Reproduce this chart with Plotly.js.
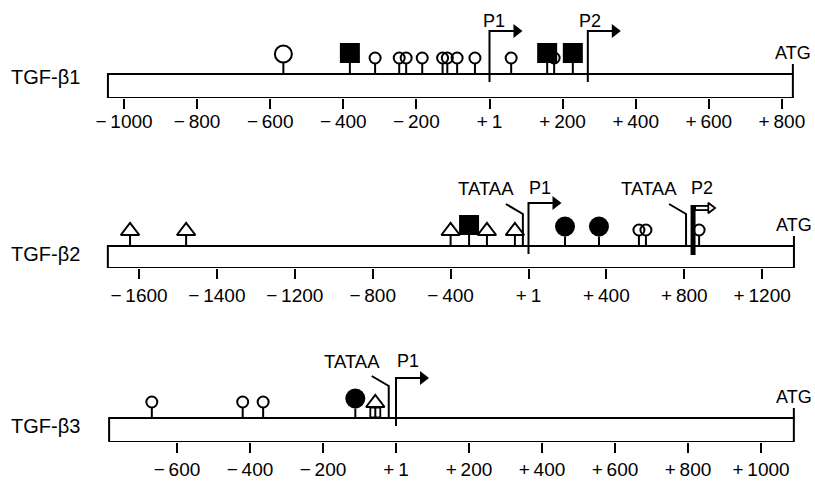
<!DOCTYPE html>
<html><head><meta charset="utf-8">
<script src="https://cdn.plot.ly/plotly-3.0.1.min.js"></script>
<style>html,body{margin:0;padding:0;background:#fff}#chart{width:815px;height:484px}</style>
</head><body><div id="chart"></div>
<script>
// ================= DATA (positions in bp relative to transcription start) =================
// TGF-beta1
const b1TickVals = [-1000,-800,-600,-400,-200,1,200,400,600,800];
const b1TickText = ['\u2212\u20091000','\u2212\u2009800','\u2212\u2009600','\u2212\u2009400','\u2212\u2009200','+\u20091','+\u2009200','+\u2009400','+\u2009600','+\u2009800'];
const b1Span = [-1044, 830];           // start of drawn region, ATG
const b1OpenLarge = [-564];
const b1OpenSmall = [-313,-247,-228,-184,-128,-115,-88,-39,60,177];
const b1FilledSquare = [-382,158,228];
const b1FilledCircle = [];
const b1OpenTriangle = [];
const b1BoxedTriangle = [];
const b1Tataa = [];
const b1Promoter = [1,269];
const b1PromoterLabel = ['P1','P2'];
const b1PromoterHollow = [false,false];

// TGF-beta2
const b2TickVals = [-1600,-1400,-1200,-800,-400,1,400,800,1200];
const b2TickText = ['\u2212\u20091600','\u2212\u20091400','\u2212\u20091200','\u2212\u2009800','\u2212\u2009400','+\u20091','+\u2009400','+\u2009800','+\u20091200'];
const b2Span = [-1680, 1363];
const b2OpenLarge = [];
const b2OpenSmall = [567,603,876];
const b2FilledSquare = [-305];
const b2FilledCircle = [188,362];
const b2OpenTriangle = [-1623,-1479,-400,-213,-69];
const b2BoxedTriangle = [];
const b2Tataa = [-28,809];
const b2Promoter = [1,845];
const b2PromoterLabel = ['P1','P2'];
const b2PromoterHollow = [false,true];

// TGF-beta3
const b3TickVals = [-600,-400,-200,1,200,400,600,800,1000];
const b3TickText = ['\u2212\u2009600','\u2212\u2009400','\u2212\u2009200','+\u20091','+\u2009200','+\u2009400','+\u2009600','+\u2009800','+\u20091000'];
const b3Span = [-786, 1090];
const b3OpenLarge = [];
const b3OpenSmall = [-669,-420,-364];
const b3FilledSquare = [];
const b3FilledCircle = [-111];
const b3OpenTriangle = [];
const b3BoxedTriangle = [-56];
const b3Tataa = [-19];
const b3Promoter = [1];
const b3PromoterLabel = ['P1'];
const b3PromoterHollow = [false];

const geneNames = ['TGF-\u03b21','TGF-\u03b22','TGF-\u03b23'];

// ================= LAYOUT / STYLE (pixels) =================
const W = 815, H = 484;
const FONT = 'Liberation Sans, Arial, Helvetica, sans-serif';
const panelGeom = [
  {firstTick:124, step:73.1, barBottom:98,  panelTop:0,   barH:24, arrowTop:43, labelAbove:53,   nameCenter:77,    pShift:[4,2],  labLen:6},
  {firstTick:139, step:77.9, barBottom:268, panelTop:128, barH:22, arrowTop:43, labelAbove:58,   nameCenter:253.5, pShift:[11,9], labLen:10},
  {firstTick:177, step:73.0, barBottom:442, panelTop:300, barH:24, arrowTop:40, labelAbove:56.5, nameCenter:426.5, pShift:[12],   labLen:10}
];
// marker styles: center/bottom are px above the bar top
const MS = {
  openLarge:  {symbol:'circle-open', size:17, center:20, bottom:11, color:'#000', lw:2},
  openSmall:  {symbol:'circle-open', size:11, center:16, bottom:10.5, color:'#000', lw:2},
  filledSq:   {symbol:'square', size:20, center:21, bottom:11, color:'#000', lw:0},
  filledCirc: {symbol:'circle', size:20, center:19.5, bottom:9.5, color:'#000', lw:0},
  openTri:    {symbol:'triangle-up', size:16, center:15, bottom:11, color:'#fff', lw:2},
  box:        {symbol:'square-open', size:10, center:5.5, bottom:0, color:'#000', lw:1.8}
};
const ARROW_L = 33, HOLLOW_L = 22;

const panels = [
  {ticks:b1TickVals, text:b1TickText, span:b1Span, openLarge:b1OpenLarge, openSmall:b1OpenSmall, filledSq:b1FilledSquare, filledCirc:b1FilledCircle, openTri:b1OpenTriangle, boxTri:b1BoxedTriangle, tataa:b1Tataa, prom:b1Promoter, promLab:b1PromoterLabel, promHollow:b1PromoterHollow},
  {ticks:b2TickVals, text:b2TickText, span:b2Span, openLarge:b2OpenLarge, openSmall:b2OpenSmall, filledSq:b2FilledSquare, filledCirc:b2FilledCircle, openTri:b2OpenTriangle, boxTri:b2BoxedTriangle, tataa:b2Tataa, prom:b2Promoter, promLab:b2PromoterLabel, promHollow:b2PromoterHollow},
  {ticks:b3TickVals, text:b3TickText, span:b3Span, openLarge:b3OpenLarge, openSmall:b3OpenSmall, filledSq:b3FilledSquare, filledCirc:b3FilledCircle, openTri:b3OpenTriangle, boxTri:b3BoxedTriangle, tataa:b3Tataa, prom:b3Promoter, promLab:b3PromoterLabel, promHollow:b3PromoterHollow}
];

// piecewise-linear map from bp to tick-index axis units (ticks are evenly spaced in the figure)
function toIdx(v, tv){
  const n = tv.length;
  let i;
  if (v <= tv[0]) i = 0;
  else if (v >= tv[n-1]) i = n-2;
  else { i = 0; while (!(v >= tv[i] && v <= tv[i+1])) i++; }
  return i + (v - tv[i]) / (tv[i+1] - tv[i]);
}

const traces = [], shapes = [], annotations = [];
const layout = {
  width:W, height:H, margin:{l:0,r:0,t:0,b:0}, showlegend:false,
  paper_bgcolor:'#fff', plot_bgcolor:'rgba(0,0,0,0)', font:{family:FONT, color:'#000'}
};

panels.forEach((p, k) => {
  const g = panelGeom[k];
  const xs = k ? 'x' + (k+1) : 'x', ys = k ? 'y' + (k+1) : 'y';
  const xk = k ? 'xaxis' + (k+1) : 'xaxis', yk = k ? 'yaxis' + (k+1) : 'yaxis';
  const xl = 'x' + (k+4), xlk = 'xaxis' + (k+4);  // overlay axis carrying the tick labels
  const u = px => px / g.step;             // px -> x units
  const X = v => toIdx(v, p.ticks);
  const top = g.barH;                       // bar top in y units (px above bar bottom)
  const xr = [(0 - g.firstTick)/g.step, (W - g.firstTick)/g.step];
  const tv = p.ticks.map((_,i)=>i);

  layout[xk] = {
    anchor: ys, domain:[0,1], range:xr,
    showgrid:false, zeroline:false, showline:false, fixedrange:true,
    ticks:'outside', ticklen:10, tickwidth:2, tickcolor:'#000', showticklabels:false,
    tickmode:'array', tickvals:tv, ticktext:p.text
  };
  layout[xlk] = {
    anchor: ys, overlaying: xs, domain:[0,1], range:xr,
    showgrid:false, zeroline:false, showline:false, fixedrange:true,
    ticks:'outside', ticklen:g.labLen, tickwidth:1, tickcolor:'rgba(0,0,0,0)',
    tickmode:'array', tickvals:tv, ticktext:p.text,
    tickfont:{family:FONT, size:19, color:'#000'}
  };
  layout[yk] = {
    anchor: xs, domain:[(H - g.barBottom)/H, (H - g.panelTop)/H], range:[0, g.barBottom - g.panelTop],
    visible:false, fixedrange:true
  };
  traces.push({type:'scatter', mode:'markers', x:[null], y:[null], xaxis:xl, yaxis:ys, hoverinfo:'skip'});

  // bar
  shapes.push({type:'rect', xref:xs, yref:ys, x0:X(p.span[0]), x1:X(p.span[1]), y0:0, y1:top,
               line:{color:'#000', width:2}, fillcolor:'rgba(0,0,0,0)', layer:'above'});

  // stems
  const sx = [], sy = [];
  const groups = [['openLarge',p.openLarge],['openSmall',p.openSmall],['openTri',p.openTri],['openTri',p.boxTri],['filledCirc',p.filledCirc],['filledSq',p.filledSq]];
  groups.forEach(([t, arr]) => arr.forEach(v => { sx.push(X(v), X(v), null); sy.push(top, top + MS[t].bottom, null); }));
  // ATG tick
  sx.push(X(p.span[1]), X(p.span[1]), null); sy.push(top, top + 10, null);
  // TATAA bent lines
  p.tataa.forEach(v => { sx.push(X(v) - u(17), X(v), X(v), null); sy.push(top + 42, top + 32, top, null); });
  traces.push({type:'scatter', mode:'lines', x:sx, y:sy, xaxis:xs, yaxis:ys, hoverinfo:'skip',
               line:{color:'#000', width:2}});

  // boxes under boxed triangles
  if (p.boxTri.length) {
    traces.push({type:'scatter', mode:'markers', x:p.boxTri.map(X), y:p.boxTri.map(()=>top + MS.box.center),
      xaxis:xs, yaxis:ys, hoverinfo:'skip',
      marker:{symbol:MS.box.symbol, size:MS.box.size, color:'#000', line:{width:MS.box.lw, color:'#000'}}});
  }
  // markers (open ones first so filled ones sit on top)
  groups.forEach(([t, arr]) => {
    if (!arr.length) return;
    const m = MS[t];
    traces.push({type:'scatter', mode:'markers', x:arr.map(X), y:arr.map(()=>top + m.center),
      xaxis:xs, yaxis:ys, hoverinfo:'skip',
      marker:{symbol:m.symbol, size:m.size, color:m.color, line:{width:m.lw, color:'#000'}}});
  });

  // promoters
  p.prom.forEach((v, i) => {
    const x0 = X(v);
    if (!p.promHollow[i]) {
      traces.push({type:'scatter', mode:'lines', xaxis:xs, yaxis:ys, hoverinfo:'skip',
        x:[x0, x0, x0 + u(ARROW_L - 6)], y:[top - 8, top + g.arrowTop, top + g.arrowTop],
        line:{color:'#000', width:2}});
      traces.push({type:'scatter', mode:'markers', xaxis:xs, yaxis:ys, hoverinfo:'skip',
        x:[x0 + u(ARROW_L - 6)], y:[top + g.arrowTop],
        marker:{symbol:'triangle-right', size:12, color:'#000'}});
    } else {
      const yA = top + g.arrowTop - 5;
      traces.push({type:'scatter', mode:'lines', xaxis:xs, yaxis:ys, hoverinfo:'skip',
        x:[x0, x0], y:[top - 9, top + g.arrowTop - 2], line:{color:'#000', width:5}});
      traces.push({type:'scatter', mode:'lines', xaxis:xs, yaxis:ys, hoverinfo:'skip',
        x:[x0, x0 + u(HOLLOW_L - 7)], y:[yA, yA], line:{color:'#000', width:6}});
      traces.push({type:'scatter', mode:'lines', xaxis:xs, yaxis:ys, hoverinfo:'skip',
        x:[x0 + u(3), x0 + u(HOLLOW_L - 6.5)], y:[yA, yA], line:{color:'#fff', width:2.4}});
      traces.push({type:'scatter', mode:'markers', xaxis:xs, yaxis:ys, hoverinfo:'skip',
        x:[x0 + u(HOLLOW_L - 4.5)], y:[yA],
        marker:{symbol:'triangle-right', size:9, color:'#fff', line:{color:'#000', width:1.8}}});
    }
    annotations.push({xref:xs, yref:ys, x:x0, y:top + g.labelAbove, xshift:g.pShift[i], text:p.promLab[i],
      showarrow:false, xanchor:'center', yanchor:'middle', font:{family:FONT, size:18, color:'#000'}});
  });
  p.tataa.forEach(v => {
    annotations.push({xref:xs, yref:ys, x:X(v), y:top + g.labelAbove, xshift:-7, text:'TATAA',
      showarrow:false, xanchor:'right', yanchor:'middle', font:{family:FONT, size:18.5, color:'#000'}});
  });
  // ATG label
  annotations.push({xref:xs, yref:ys, x:X(p.span[1]), y:top + 21, text:'ATG', showarrow:false,
    xanchor:'center', yanchor:'middle', font:{family:FONT, size:18, color:'#000'}});
  // gene name
  annotations.push({xref:'paper', yref:ys, x:9/W, y:g.barBottom - g.nameCenter, text:geneNames[k], showarrow:false,
    xanchor:'left', yanchor:'middle', font:{family:FONT, size:20, color:'#000'}});
});

layout.shapes = shapes;
layout.annotations = annotations;
Plotly.newPlot('chart', traces, layout, {staticPlot:true, displayModeBar:false});
</script>
</body></html>
